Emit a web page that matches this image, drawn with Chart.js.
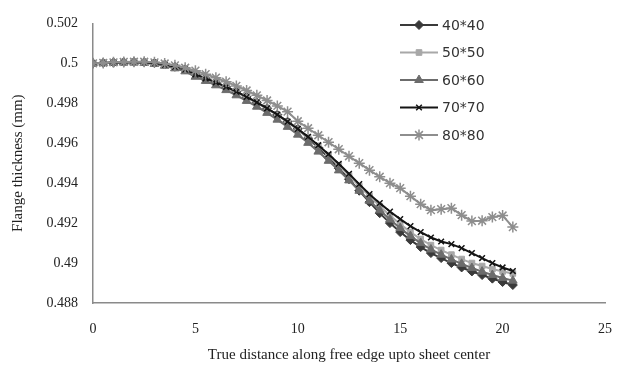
<!DOCTYPE html>
<html>
<head>
<meta charset="utf-8">
<title>Flange thickness</title>
<script src="https://cdn.jsdelivr.net/npm/chart.js@4.4.1/dist/chart.umd.min.js"></script>
<style>
  html, body { margin: 0; padding: 0; background: #fff; }
  #wrap { width: 619px; height: 374px; position: relative; }
</style>
</head>
<body>
<div id="wrap"><canvas id="thicknessChart"></canvas></div>
<script>
// distance along free edge (same for every series)
const distances = [0, 0.5, 1, 1.5, 2, 2.5, 3, 3.5, 4, 4.5, 5, 5.5, 6, 6.5, 7, 7.5, 8, 8.5, 9, 9.5,
  10, 10.5, 11, 11.5, 12, 12.5, 13, 13.5, 14, 14.5, 15, 15.5, 16, 16.5, 17, 17.5, 18, 18.5, 19, 19.5, 20, 20.5];

const seriesNames = ['40*40', '50*50', '60*60', '70*70', '80*80'];

const thick40 = [0.5, 0.50002, 0.50004, 0.50006, 0.50007, 0.50006, 0.50002, 0.49994, 0.49983, 0.4997,
  0.49945, 0.49925, 0.49905, 0.49882, 0.49858, 0.49832, 0.49805, 0.49775, 0.49743, 0.49708,
  0.49672, 0.49625, 0.49578, 0.49528, 0.49475, 0.4942, 0.49362, 0.49305, 0.4925, 0.492,
  0.49155, 0.49115, 0.4908, 0.4905, 0.49025, 0.49, 0.48978, 0.48958, 0.4894, 0.48922, 0.48905, 0.4889];
const thick50 = [0.5, 0.50002, 0.50004, 0.50005, 0.50006, 0.50005, 0.50001, 0.49993, 0.49981, 0.49967,
  0.49942, 0.49922, 0.49902, 0.49879, 0.49855, 0.49829, 0.49802, 0.49772, 0.4974, 0.49705,
  0.49668, 0.4963, 0.49587, 0.4954, 0.4949, 0.49438, 0.49385, 0.49335, 0.49285, 0.49238,
  0.49195, 0.49155, 0.4912, 0.4909, 0.49065, 0.49042, 0.4902, 0.49, 0.48985, 0.4897, 0.48958, 0.48948];
const thick60 = [0.5, 0.50002, 0.50003, 0.50004, 0.50004, 0.50002, 0.49997, 0.49988, 0.49975, 0.4996,
  0.49933, 0.49912, 0.4989, 0.49866, 0.4984, 0.49812, 0.49783, 0.49752, 0.49718, 0.49682,
  0.49643, 0.49602, 0.49558, 0.49512, 0.49464, 0.49414, 0.49362, 0.49312, 0.49264, 0.49218,
  0.49175, 0.49135, 0.491, 0.49068, 0.49042, 0.49018, 0.48996, 0.48975, 0.48957, 0.4894, 0.48925, 0.48912];
const thick70 = [0.5, 0.50002, 0.50004, 0.50006, 0.50007, 0.50006, 0.50002, 0.49994, 0.49983, 0.4997,
  0.49945, 0.49925, 0.49905, 0.49882, 0.49858, 0.49832, 0.49805, 0.49775, 0.49743, 0.49708,
  0.49672, 0.49632, 0.4959, 0.49545, 0.49497, 0.49447, 0.49395, 0.49345, 0.493, 0.49258,
  0.4922, 0.49185, 0.49155, 0.49128, 0.49108, 0.49095, 0.49075, 0.4905, 0.49025, 0.49, 0.48978, 0.4896];
const thick80 = [0.5, 0.50002, 0.50005, 0.50007, 0.50008, 0.50008, 0.50005, 0.49999, 0.4999, 0.49978,
  0.49963, 0.49946, 0.49928, 0.49908, 0.49887, 0.49864, 0.4984, 0.49814, 0.49787, 0.49758,
  0.4971, 0.49675, 0.4964, 0.49605, 0.4957, 0.49535, 0.495, 0.49465, 0.49432, 0.494,
  0.49375, 0.49335, 0.49295, 0.49265, 0.4927, 0.49275, 0.4924, 0.4921, 0.49212, 0.4923, 0.49238, 0.4918];

const xTickLabels = ['0', '5', '10', '15', '20', '25'];
const yTickLabels = ['0.488', '0.49', '0.492', '0.494', '0.496', '0.498', '0.5', '0.502'];

const seriesColors = ['#3a3a3a', '#a8a8a8', '#6c6c6c', '#141414', '#8e8e8e'];
const pointStyles = ['rectRot', 'rect', 'triangle', 'crossRot', 'star'];
const pointSizes = [4.5, 4, 5, 4, 5.5];

function toPoints(values) {
  return values.map(function(v, i) { return { x: distances[i], y: v }; });
}

const allSeries = [thick40, thick50, thick60, thick70, thick80];

const datasets = allSeries.map(function(values, i) {
  return {
    label: seriesNames[i],
    data: toPoints(values),
    borderColor: seriesColors[i],
    backgroundColor: seriesColors[i],
    borderWidth: 2,
    pointStyle: pointStyles[i],
    pointRadius: pointSizes[i],
    pointBorderWidth: (pointStyles[i] === 'crossRot' || pointStyles[i] === 'star') ? 1.5 : 1,
    pointBackgroundColor: seriesColors[i],
    pointBorderColor: seriesColors[i],
    tension: 0,
    order: 5 - i
  };
});

// legend drawn inside the plot, top right, like the original
const insideLegend = {
  id: 'insideLegend',
  afterDraw: function(chart) {
    const ctx = chart.ctx;
    ctx.save();
    chart.data.datasets.forEach(function(ds, i) {
      const y = 25 + i * 27.5;
      ctx.strokeStyle = ds.borderColor;
      ctx.fillStyle = ds.borderColor;
      ctx.lineWidth = 2;
      ctx.beginPath();
      ctx.moveTo(400, y);
      ctx.lineTo(438, y);
      ctx.stroke();
      ctx.lineWidth = ds.pointBorderWidth;
      if (Chart.helpers && Chart.helpers.drawPoint) {
        Chart.helpers.drawPoint(ctx, {
          pointStyle: ds.pointStyle,
          radius: ds.pointRadius,
          borderWidth: ds.pointBorderWidth,
          rotation: 0
        }, 419, y);
      } else {
        ctx.beginPath();
        ctx.arc(419, y, ds.pointRadius, 0, Math.PI * 2);
        ctx.fill();
      }
      ctx.fillStyle = '#333';
      ctx.font = '14px "DejaVu Sans"';
      ctx.textAlign = 'left';
      ctx.textBaseline = 'middle';
      ctx.fillText(ds.label, 442, y + 1);
    });
    ctx.restore();
  }
};

const serif = '"Liberation Serif", "DejaVu Serif", serif';

new Chart(document.getElementById('thicknessChart'), {
  type: 'line',
  data: { datasets: datasets },
  plugins: [insideLegend],
  options: {
    responsive: true,
    maintainAspectRatio: false,
    animation: false,
    layout: { padding: { top: 23, right: 14, left: 0, bottom: 0 } },
    plugins: {
      legend: { display: false },
      tooltip: { enabled: false }
    },
    scales: {
      x: {
        type: 'linear',
        min: 0,
        max: 25,
        grid: { display: false, drawTicks: false },
        border: { display: true, color: '#8a8a8a', width: 1.5 },
        ticks: {
          stepSize: 5,
          padding: 18,
          color: '#222',
          font: { family: serif, size: 14 },
          callback: function(value, index) { return xTickLabels[index]; }
        },
        title: {
          display: true,
          text: 'True distance along free edge upto sheet center',
          color: '#222',
          font: { family: serif, size: 15 },
          padding: { top: 4, bottom: 10 }
        },
        afterFit: function(scale) {
          scale.height = 71;
          scale.paddingRight = 0;
          scale.paddingLeft = 0;
        }
      },
      y: {
        min: 0.488,
        max: 0.502,
        grid: { display: false, drawTicks: false },
        border: { display: true, color: '#8a8a8a', width: 1.5 },
        ticks: {
          stepSize: 0.002,
          padding: 15,
          color: '#222',
          font: { family: serif, size: 14 },
          callback: function(value, index) { return yTickLabels[index]; }
        },
        title: {
          display: true,
          text: 'Flange thickness (mm)',
          color: '#222',
          font: { family: serif, size: 15 },
          padding: { top: 9, bottom: 0 }
        },
        afterFit: function(scale) { scale.width = 93; }
      }
    }
  }
});
</script>
</body>
</html>
